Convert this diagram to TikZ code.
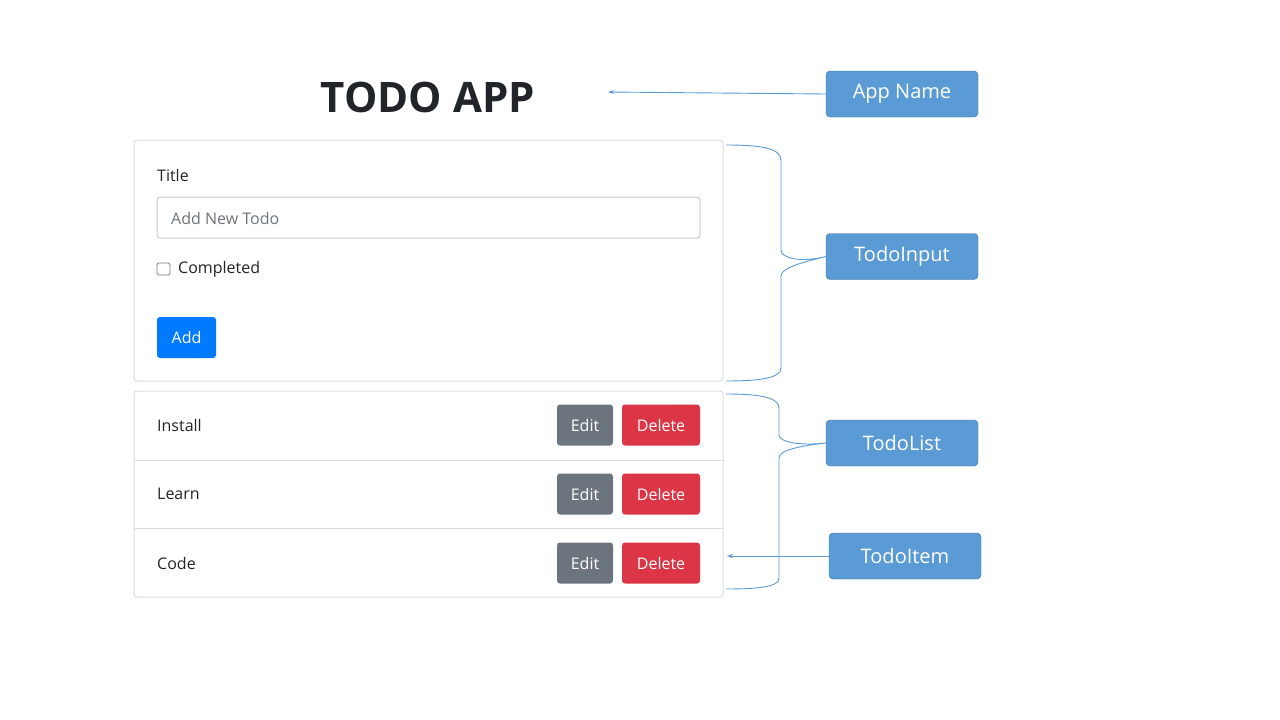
\documentclass[tikz,border=0pt]{standalone}
\usepackage{fontspec}
\setmainfont{Open Sans}
\usetikzlibrary{arrows.meta}
\definecolor{txt}{HTML}{212529}
\definecolor{bord}{HTML}{DADDE0}
\definecolor{bbtn}{HTML}{007BFF}
\definecolor{gbtn}{HTML}{6C757D}
\definecolor{rbtn}{HTML}{DC3545}
\definecolor{call}{HTML}{5B9BD5}
\definecolor{callb}{HTML}{41719C}
\definecolor{ph}{HTML}{6C757D}
\tikzset{
  x=1pt,y=-1pt,
  card/.style={draw=bord,line width=1pt,rounded corners=3pt},
  lbl/.style={anchor=west,inner sep=0pt,font=\fontsize{16}{18}\selectfont,text=txt},
  btn/.style={rounded corners=3pt,minimum height=41pt,inner sep=0pt,text=white,font=\fontsize{16}{18}\selectfont},
  callout/.style={draw=callb,fill=call,rounded corners=4pt,minimum width=152pt,minimum height=46pt,text=white,font=\fontsize{20}{22}\selectfont},
  conn/.style={draw=call,line width=0.9pt},
  arr/.style={conn,-{Stealth[length=6pt,width=4pt]}}
}
\begin{document}
\begin{tikzpicture}
\useasboundingbox (0,0) rectangle (1280,720);
\fill[white] (0,0) rectangle (1280,720);
\node[font=\fontsize{42}{46}\selectfont\bfseries,text=txt] (title) at (428,97) {TODO APP};
% card 1
\draw[card] (134,140) rectangle (723,381);
\node[lbl] (tl) at (157,175) {Title};
\draw[draw=bord!80!gray,line width=1pt,rounded corners=3pt] (157,197) rectangle (700,238);
\node[lbl,text=ph] (ph) at (171,218) {Add New Todo};
\draw[draw=gray,line width=0.8pt,rounded corners=1.5pt] (157,263) rectangle (170,275);
\node[lbl] (cmp) at (178,269) {Completed};
\node[btn,fill=bbtn,minimum width=59pt] (add) at (186.5,337.5) {Add};
% card 2
\draw[card] (134,391) rectangle (723,597);
\draw[draw=bord,line width=1pt] (134,460) -- (723,460) (134,528) -- (723,528);
\foreach \t/\y/\n in {Install/425/a,Learn/494/b,Code/563/c}{
  \node[lbl] (t\n) at (157,\y) {\t};
  \node[btn,fill=gbtn,minimum width=56pt] (e\n) at (585,\y) {Edit};
  \node[btn,fill=rbtn,minimum width=78pt] (d\n) at (661,\y) {Delete};
}
% callouts
\node[callout] (cA) at (902,94) {App Name};
\node[callout] (cI) at (902,256.5) {TodoInput};
\node[callout] (cL) at (902,443) {TodoList};
\node[callout] (cT) at (905,556) {TodoItem};
\coordinate (aT) at (608,92);
\coordinate (iT) at (727,556);
\draw[arr] (cA.west) -- (aT);
\draw[arr] (cT.west) -- (iT);
% braces
\draw[conn] (726,145) .. controls (760,145) and (781,148) .. (781,160) -- (781,250) .. controls (781,258) and (800,263) .. (cI.west)
  .. controls (800,263) and (781,268) .. (781,276) -- (781,368) .. controls (781,378) and (760,381) .. (726,381);
\draw[conn] (726,394) .. controls (758,394) and (779,397) .. (779,408) -- (779,435) .. controls (779,442) and (800,446) .. (cL.west)
  .. controls (800,446) and (779,450) .. (779,458) -- (779,578) .. controls (779,587) and (758,589) .. (726,589);
\end{tikzpicture}
\end{document}
